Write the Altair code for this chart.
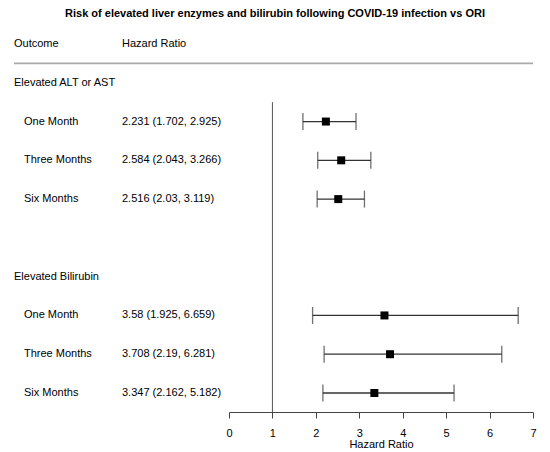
import altair as alt
import pandas as pd

title_text = "Risk of elevated liver enzymes and bilirubin following COVID-19 infection vs ORI"
groups = ["Elevated ALT or AST", "Elevated Bilirubin"]
periods = ["One Month", "Three Months", "Six Months"]
hr = [2.231, 2.584, 2.516, 3.58, 3.708, 3.347]
lo = [1.702, 2.043, 2.03, 1.925, 2.19, 2.162]
hi = [2.925, 3.266, 3.119, 6.659, 6.281, 5.182]
hr_text = ["2.231 (1.702, 2.925)", "2.584 (2.043, 3.266)", "2.516 (2.03, 3.119)",
           "3.58 (1.925, 6.659)", "3.708 (2.19, 6.281)", "3.347 (2.162, 5.182)"]
x_ticks = [0, 1, 2, 3, 4, 5, 6, 7]

# row index positions (layout)
row_pos = [2, 3, 4, 7, 8, 9]
group_pos = [1, 6]

rows = pd.DataFrame({
    "label": periods * 2,
    "hr": hr, "lo": lo, "hi": hi,
    "txt": hr_text,
    "pos": row_pos,
})
grp = pd.DataFrame({"label": groups, "pos": group_pos})
hdr = pd.DataFrame({"a": ["Outcome"], "b": ["Hazard Ratio"], "pos": [0], "t": [title_text], "tpos": [-0.77],
                    "sep": [0.50], "vtop": [1.5], "vbot": [9.49], "one": [1]})

FONT = "Liberation Sans"
ydom = [-0.928, 9.49]
yscale = alt.Scale(domain=ydom, reverse=True, nice=False, zero=False)
xscale = alt.Scale(domain=[0, 7], nice=False, zero=False)

xaxis = alt.Axis(values=x_ticks, title="Hazard Ratio", grid=False, labelFontSize=11, titleFontSize=11,
                 titleFontWeight="normal", labelColor="black", titleColor="black", tickColor="#444",
                 domainColor="#444", tickSize=6, labelPadding=9, titlePadding=0, labelFont=FONT, titleFont=FONT,
                 labelFlush=False)


def Y(field):
    return alt.Y(field, scale=yscale, axis=None)


def X(field):
    return alt.X(field, scale=xscale, axis=xaxis)


base_rows = alt.Chart(rows)

bars = base_rows.mark_rule(color="#333", strokeWidth=1.3).encode(
    x=X("lo:Q"), x2="hi:Q", y=Y("pos:Q"))
cap_lo = base_rows.mark_tick(color="#333", size=17, thickness=1.3, orient="vertical").encode(
    x=X("lo:Q"), y=Y("pos:Q"))
cap_hi = base_rows.mark_tick(color="#333", size=17, thickness=1.3, orient="vertical").encode(
    x=X("hi:Q"), y=Y("pos:Q"))
pts = base_rows.mark_square(color="black", size=64, opacity=1).encode(
    x=X("hr:Q"), y=Y("pos:Q"))

txt_kw = dict(baseline="middle", fontSize=11, font=FONT, color="black")
lab = base_rows.mark_text(align="left", **txt_kw).encode(
    x=alt.value(-205), y=Y("pos:Q"), text="label:N")
val = base_rows.mark_text(align="left", **txt_kw).encode(
    x=alt.value(-107), y=Y("pos:Q"), text="txt:N")
glab = alt.Chart(grp).mark_text(align="left", **txt_kw).encode(
    x=alt.value(-215), y=Y("pos:Q"), text="label:N")

hbase = alt.Chart(hdr)
h1 = hbase.mark_text(align="left", **txt_kw).encode(
    x=alt.value(-215), y=Y("pos:Q"), text="a:N")
h2 = hbase.mark_text(align="left", **txt_kw).encode(
    x=alt.value(-107), y=Y("pos:Q"), text="b:N")
ttl = hbase.mark_text(align="center", fontWeight="bold", **txt_kw).encode(
    x=alt.value(46), y=Y("tpos:Q"), text="t:N")
sep = hbase.mark_rule(color="#aaa", strokeWidth=1.8).encode(
    x=alt.value(-215), x2=alt.value(304), y=Y("sep:Q"))
vline = hbase.mark_rule(color="#555", strokeWidth=1).encode(
    x=X("one:Q"), y=Y("vtop:Q"), y2="vbot:Q")

chart = alt.layer(vline, sep, bars, cap_lo, cap_hi, pts, lab, val, glab, h1, h2, ttl).properties(
    width=304, height=404,
    autosize=alt.AutoSizeParams(type="none"),
    padding={"left": 221, "top": 0, "right": 9, "bottom": 40},
).configure_view(stroke=None)

chart.save("out.html", embed_options={"renderer": "svg", "actions": False})
